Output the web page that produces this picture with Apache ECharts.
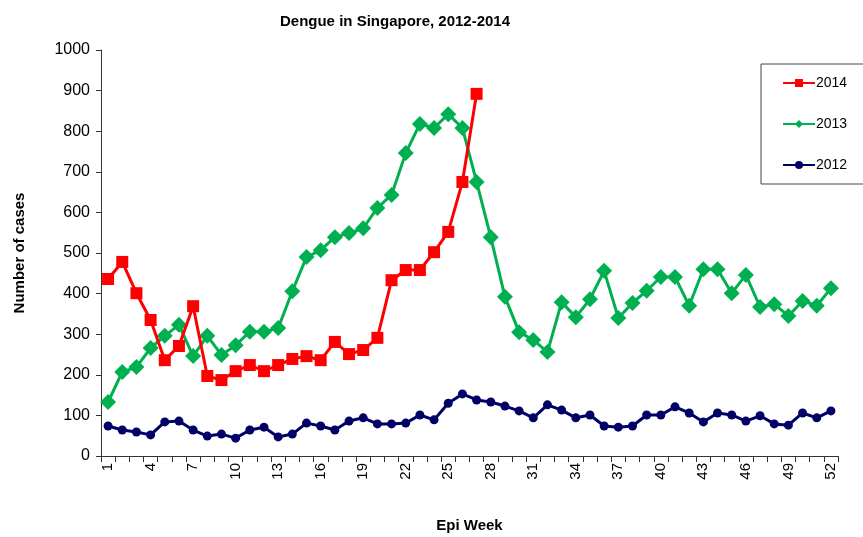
<!DOCTYPE html>
<html>
<head>
<meta charset="utf-8">
<script src="https://cdn.jsdelivr.net/npm/echarts@6/dist/echarts.min.js"></script>
<style>
  html, body { margin: 0; padding: 0; background: #fff; }
  #chart { width: 863px; height: 537px; }
</style>
</head>
<body>
<div id="chart"></div>
<script>
// epi weeks 1..52
var weeks = [];
for (var w = 1; w <= 52; w++) weeks.push(String(w));

var cases2014 = [436, 478, 401, 335, 236, 271, 369, 197, 187, 209, 224, 209, 224, 239, 246, 236, 281, 251, 261, 291,
  433, 458, 458, 502, 552, 675, 892];

var cases2013 = [133, 207, 219, 266, 296, 323, 246, 296, 249, 273, 306, 306, 315, 406, 490, 507, 539, 549, 561, 611,
  643, 746, 818, 808, 842, 808, 675, 539, 392, 305, 286, 256, 379, 342, 386, 456, 340, 377, 407, 441,
  441, 370, 460, 460, 401, 446, 367, 374, 345, 382, 370, 413];

var cases2012 = [74, 64, 59, 52, 84, 86, 64, 49, 54, 44, 64, 71, 47, 54, 81, 74, 64, 86, 94, 79,
  79, 81, 101, 89, 130, 153, 138, 133, 123, 111, 94, 126, 113, 94, 101, 74, 71, 74, 101, 101,
  121, 106, 84, 106, 101, 86, 99, 79, 76, 106, 94, 111];

var chart = echarts.init(document.getElementById('chart'));

var option = {
  animation: false,
  title: {
    text: 'Dengue in Singapore, 2012-2014',
    left: 390,
    textAlign: 'center',
    top: 9,
    textStyle: { fontFamily: 'Liberation Sans', fontSize: 15, fontWeight: 'bold', color: '#000' }
  },
  legend: {
    orient: 'vertical',
    left: 761,
    top: 64,
    padding: [12, 60, 12, 21],
    itemGap: 27,
    itemWidth: 32,
    itemHeight: 10,
    borderColor: '#444',
    borderWidth: 1,
    textStyle: { fontFamily: 'Liberation Sans', fontSize: 14, color: '#000', padding: [0, 0, 0, -4] },
    data: ['2014', '2013', '2012']
  },
  grid: { left: 101, right: 25, top: 50, bottom: 81, containLabel: false, outerBoundsMode: 'none' },
  xAxis: {
    type: 'category',
    data: weeks,
    boundaryGap: true,
    name: 'Epi Week',
    nameLocation: 'middle',
    nameGap: 62,
    nameTextStyle: { fontFamily: 'Liberation Sans', fontSize: 15, fontWeight: 'bold', color: '#000' },
    axisLine: { lineStyle: { color: '#333', width: 1 } },
    axisTick: { show: true, interval: 0, length: 6, lineStyle: { color: '#333' } },
    axisLabel: {
      interval: 2,
      rotate: 90,
      margin: 7,
      fontFamily: 'Liberation Sans',
      fontSize: 15,
      color: '#000'
    },
    splitLine: { show: false }
  },
  yAxis: {
    type: 'value',
    min: 0,
    max: 1000,
    interval: 100,
    name: 'Number of cases',
    nameLocation: 'middle',
    nameGap: 74,
    nameTextStyle: { fontFamily: 'Liberation Sans', fontSize: 15, fontWeight: 'bold', color: '#000' },
    axisLine: { show: true, lineStyle: { color: '#333', width: 1 } },
    axisTick: { show: true, length: 5, lineStyle: { color: '#333' } },
    axisLabel: {
      fontFamily: 'Liberation Sans', fontSize: 16, color: '#000', margin: 11,
      formatter: function (v) { return String(v); }
    },
    splitLine: { show: false }
  },
  series: [
    {
      name: '2014',
      type: 'line',
      data: cases2014,
      z: 4,
      symbol: 'rect',
      symbolSize: 12,
      showAllSymbol: true,
      lineStyle: { color: '#ff0000', width: 3 },
      itemStyle: { color: '#ff0000' }
    },
    {
      name: '2013',
      type: 'line',
      data: cases2013,
      z: 3,
      symbol: 'diamond',
      symbolSize: 16,
      showAllSymbol: true,
      lineStyle: { color: '#00b050', width: 3 },
      itemStyle: { color: '#00b050' }
    },
    {
      name: '2012',
      type: 'line',
      data: cases2012,
      z: 2,
      symbol: 'circle',
      symbolSize: 9,
      showAllSymbol: true,
      lineStyle: { color: '#000066', width: 3 },
      itemStyle: { color: '#000066' }
    }
  ]
};

chart.setOption(option);
</script>
</body>
</html>
